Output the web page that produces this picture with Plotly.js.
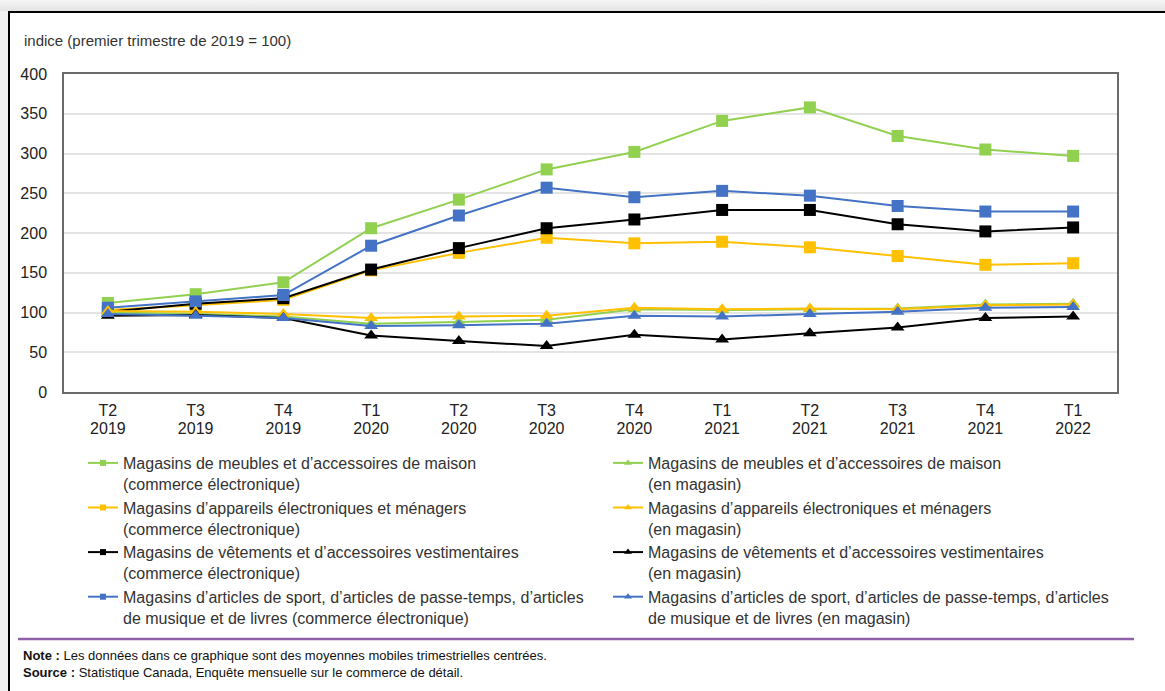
<!DOCTYPE html>
<html lang="fr">
<head>
<meta charset="utf-8">
<script src="https://cdn.plot.ly/plotly-3.0.1.min.js"></script>
<style>
  html, body { margin: 0; padding: 0; }
  body {
    width: 1165px; height: 691px; overflow: hidden;
    background: #f1f1f1;
    position: relative;
  }
  #topband {
    position: absolute; left: 0; top: 0; width: 1165px; height: 11px;
    background: linear-gradient(#f6f6f6, #e4e4e4);
  }
  #frame {
    position: absolute; left: 8px; top: 11px;
    width: 1155px; height: 678px;
    border-left: 2px solid #000; border-top: 2px solid #000;
    background: #fff;
  }
  #chart { width: 1155px; height: 678px; }
</style>
</head>
<body>
<div id="topband"></div>
<div id="frame"><div id="chart"></div></div>
<script>
// Quarters (T = trimestre)
const quarters = ['T2 2019', 'T3 2019', 'T4 2019', 'T1 2020', 'T2 2020', 'T3 2020',
                  'T4 2020', 'T1 2021', 'T2 2021', 'T3 2021', 'T4 2021', 'T1 2022'];

// Index values, first quarter of 2019 = 100 (centred 3-quarter moving averages)
const furnitureOnline   = [112, 123, 138, 206, 242, 280, 302, 341, 358, 322, 305, 297];
const electronicsOnline = [103, 109, 116, 153, 175, 194, 187, 189, 182, 171, 160, 162];
const clothingOnline    = [101, 111, 118, 154, 181, 206, 217, 229, 229, 211, 202, 207];
const sportOnline       = [106, 114, 122, 184, 222, 257, 245, 253, 247, 234, 227, 227];

const furnitureStore    = [100,  98,  95,  86,  88,  91, 104, 103, 104, 105, 110, 111];
const electronicsStore  = [102, 101,  98,  93,  95,  96, 106, 104, 105, 104, 109, 110];
const clothingStore     = [ 96,  97,  93,  71,  64,  58,  72,  66,  74,  81,  93,  95];
const sportStore        = [ 98,  96,  93,  83,  84,  86,  96,  95,  98, 101, 106, 107];

const seriesNames = {
  furnitureOnline:   'Magasins de meubles et d\u2019accessoires de maison<br>(commerce électronique)',
  electronicsOnline: 'Magasins d\u2019appareils électroniques et ménagers<br>(commerce électronique)',
  clothingOnline:    'Magasins de vêtements et d\u2019accessoires vestimentaires<br>(commerce électronique)',
  sportOnline:       'Magasins d\u2019articles de sport, d\u2019articles de passe-temps, d\u2019articles<br>de musique et de livres (commerce électronique)',
  furnitureStore:    'Magasins de meubles et d\u2019accessoires de maison<br>(en magasin)',
  electronicsStore:  'Magasins d\u2019appareils électroniques et ménagers<br>(en magasin)',
  clothingStore:     'Magasins de vêtements et d\u2019accessoires vestimentaires<br>(en magasin)',
  sportStore:        'Magasins d\u2019articles de sport, d\u2019articles de passe-temps, d\u2019articles<br>de musique et de livres (en magasin)'
};

const GREEN = '#92d050', YELLOW = '#ffc000', BLACK = '#000000', BLUE = '#4472c4';
const FONT = '"Liberation Sans", Arial, sans-serif';

// Plot-area geometry in page pixels, used to place the free-floating text/shapes
const PX = { left: 64, right: 1117, top: 74, bottom: 392 };
const px2x = p => (p - PX.left) / (PX.right - PX.left);
const px2y = p => (PX.bottom - p) / (PX.bottom - PX.top);

// Two-line category labels: quarter on the first axis, year on an overlaid one
const quarterText = quarters.map(q => q.split(' ')[0]);
const yearText = quarters.map(q => q.split(' ')[1]);
const quarterIdx = quarters.map((q, i) => i);
const catRange = [-0.5, quarters.length - 0.5];

function line(y, color, symbol, name, legendId) {
  return [
    {
      type: 'scatter', mode: 'lines+markers', x: quarters, y: y, name: name,
      showlegend: false, hoverinfo: 'x+y',
      line: { color: color, width: 2 },
      marker: { color: color, symbol: symbol, size: 12 }
    },
    // small-marker legend entry
    {
      type: 'scatter', mode: 'lines+markers', x: [null], y: [null], name: name,
      legend: legendId, showlegend: true, hoverinfo: 'skip',
      line: { color: color, width: 2 },
      marker: { color: color, symbol: symbol, size: symbol === 'square' ? 6 : 7 }
    }
  ];
}

const pairs = [
  line(furnitureOnline,   GREEN,  'square', seriesNames.furnitureOnline,   'legend'),
  line(electronicsOnline, YELLOW, 'square', seriesNames.electronicsOnline, 'legend'),
  line(clothingOnline,    BLACK,  'square', seriesNames.clothingOnline,    'legend'),
  line(sportOnline,       BLUE,   'square', seriesNames.sportOnline,       'legend'),
  line(furnitureStore,    GREEN,  'triangle-up', seriesNames.furnitureStore,   'legend2'),
  line(electronicsStore,  YELLOW, 'triangle-up', seriesNames.electronicsStore, 'legend2'),
  line(clothingStore,     BLACK,  'triangle-up', seriesNames.clothingStore,    'legend2'),
  line(sportStore,        BLUE,   'triangle-up', seriesNames.sportStore,       'legend2')
];
const data = pairs.map(p => p[0]).concat(pairs.map(p => p[1]));

// the year axis carries no trace of its own; give it an empty one so it is drawn
data.push({ type: 'scatter', mode: 'none', x: [], y: [], xaxis: 'x2', yaxis: 'y', showlegend: false, hoverinfo: 'skip' });

const legendBase = {
  orientation: 'v', bgcolor: 'rgba(0,0,0,0)', borderwidth: 0, valign: 'top',
  font: { family: FONT, size: 16, color: '#333' },
  xanchor: 'left', yanchor: 'top', itemclick: false, itemdoubleclick: false
};

const tickFont = { family: FONT, size: 16, color: '#222' };

const layout = {
  width: 1155, height: 678,
  margin: { l: PX.left - 10, r: 1165 - PX.right, t: PX.top - 13, b: 678 - (PX.bottom - 13) },
  paper_bgcolor: '#ffffff', plot_bgcolor: '#ffffff',
  font: { family: FONT, color: '#222' },
  showlegend: true,
  xaxis: {
    type: 'category', categoryorder: 'array', categoryarray: quarters,
    autorange: false, range: catRange,
    tickvals: quarters, ticktext: quarterText,
    tickfont: tickFont, ticks: '', ticklabelstandoff: 3,
    showgrid: false, zeroline: false,
    showline: true, linecolor: '#6a6a6a', linewidth: 1.5, mirror: true,
    fixedrange: true
  },
  xaxis2: {
    type: 'linear', overlaying: 'x', anchor: 'y', side: 'bottom',
    autorange: false, range: catRange,
    tickvals: quarterIdx, ticktext: yearText,
    tickfont: tickFont, ticks: '', ticklabelstandoff: 25,
    showgrid: false, zeroline: false, showline: false,
    fixedrange: true
  },
  yaxis: {
    range: [0, 400], dtick: 50, tick0: 0,
    tickfont: tickFont, ticks: '', ticklabelstandoff: 12,
    showgrid: true, gridcolor: '#e4e4e4', gridwidth: 1.5, zeroline: false,
    showline: true, linecolor: '#6a6a6a', linewidth: 1.5, mirror: true,
    fixedrange: true
  },
  legend: Object.assign({}, legendBase, { x: px2x(83), y: px2y(446) }),
  legend2: Object.assign({}, legendBase, { x: px2x(608), y: px2y(446) }),
  shapes: [
    {
      type: 'line', xref: 'paper', yref: 'paper',
      x0: px2x(18), x1: px2x(1134), y0: px2y(639), y1: px2y(639),
      line: { color: '#8e60a8', width: 2.5 }
    }
  ],
  annotations: [
    {
      xref: 'paper', yref: 'paper', x: px2x(22), y: px2y(40),
      xanchor: 'left', yanchor: 'middle', showarrow: false,
      text: 'indice (premier trimestre de 2019 = 100)',
      font: { family: FONT, size: 15, color: '#333' }
    },
    {
      xref: 'paper', yref: 'paper', x: px2x(21), y: px2y(655),
      xanchor: 'left', yanchor: 'middle', showarrow: false,
      text: '<b>Note :</b> Les données dans ce graphique sont des moyennes mobiles trimestrielles centrées.',
      font: { family: FONT, size: 13, color: '#111' }
    },
    {
      xref: 'paper', yref: 'paper', x: px2x(21), y: px2y(672),
      xanchor: 'left', yanchor: 'middle', showarrow: false,
      text: '<b>Source :</b> Statistique Canada, Enquête mensuelle sur le commerce de détail.',
      font: { family: FONT, size: 13, color: '#111' }
    }
  ]
};

Plotly.newPlot('chart', data, layout, { displayModeBar: false, responsive: false });
</script>
</body>
</html>
